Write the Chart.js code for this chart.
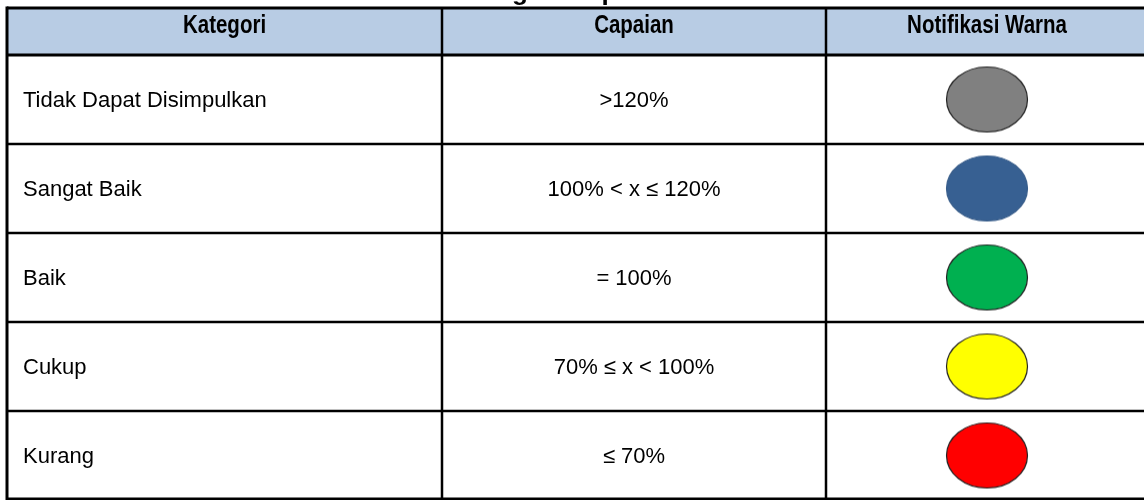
<html>

<head>
  <script src="https://cdn.jsdelivr.net/npm/chart.js"></script>
  <style>
    body { margin: 0; background: #fff; }
  </style>
</head>

<body>
  <canvas id="myChart" width="1144" height="500"></canvas>
  <script>
    // data of the table
    const judul = 'Kategori Capaian';
    const headers = ['Kategori', 'Capaian', 'Notifikasi Warna'];
    const categories = ['Tidak Dapat Disimpulkan', 'Sangat Baik', 'Baik', 'Cukup', 'Kurang'];
    const capaian = ['>120%', '100% < x \u2264 120%', '= 100%', '70% \u2264 x < 100%', '\u2264 70%'];
    const warna = ['#808080', '#376092', '#00b050', '#ffff00', '#ff0000'];

    // layout (x in pixels of the linear scale)
    const colEdges = [7, 442, 826, 1148];
    const headerTop = 8;

    const makeEllipse = (color) => {
      var c = document.createElement('canvas');
      c.width = 84; c.height = 68;
      var g = c.getContext('2d');
      g.beginPath();
      g.ellipse(42, 34, 40.5, 32.5, 0, 0, Math.PI * 2);
      g.fillStyle = color;
      g.fill();
      g.lineWidth = 1.2;
      g.strokeStyle = color == '#376092' ? '#385d8a' : '#222';
      g.stroke();
      return c;
    }

    const tablePlugin = {
      id: 'tabel',
      beforeDatasetsDraw(chart) {
        var ctx = chart.ctx;
        var x = chart.scales.x, y = chart.scales.y;
        var area = chart.chartArea;
        var band = (area.bottom - area.top) / categories.length;
        var px = v => x.getPixelForValue(v);
        var left = px(colEdges[0]);

        ctx.save();
        ctx.fillStyle = '#fff';
        ctx.fillRect(0, 0, chart.width, chart.height);

        // header band
        ctx.fillStyle = '#b8cce4';
        ctx.fillRect(left, headerTop, px(colEdges[3]) - left, area.top - headerTop);

        // title (mostly cut off above the picture)
        ctx.fillStyle = '#000';
        ctx.font = "bold 26px 'Liberation Sans', Arial, sans-serif";
        ctx.textAlign = 'left';
        ctx.textBaseline = 'alphabetic';
        ctx.fillText(judul, 512 - ctx.measureText('Kate').width, 0);

        // header texts, narrow bold
        ctx.font = "bold 25px 'Liberation Sans', Arial, sans-serif";
        var wide = ctx.measureText('Kategori').width;
        ctx.font = "bold 25px 'Liberation Sans Narrow', 'Arial Narrow', sans-serif";
        var narrow = ctx.measureText('Kategori').width;
        var sx = narrow / wide > 0.95 ? 0.82 : 1;
        ctx.textAlign = 'center';
        headers.forEach((h, i) => {
          var cx = (px(colEdges[i]) + px(colEdges[i + 1])) / 2;
          ctx.save();
          ctx.translate(cx, 33);
          ctx.scale(sx, 1);
          ctx.fillText(h, 0, 0);
          ctx.restore();
        });

        // body texts
        ctx.font = "22px 'Liberation Sans', Arial, sans-serif";
        categories.forEach((c, i) => {
          var cy = y.getPixelForValue(i) + 7;
          ctx.textAlign = 'left';
          ctx.fillText(c, left + 16, cy);
          ctx.textAlign = 'center';
          ctx.fillText(capaian[i], (px(colEdges[1]) + px(colEdges[2])) / 2, cy);
        });

        // grid lines
        ctx.strokeStyle = '#000';
        ctx.lineWidth = 3;
        ctx.beginPath();
        ctx.moveTo(left, headerTop); ctx.lineTo(chart.width, headerTop);
        ctx.moveTo(left, area.top); ctx.lineTo(chart.width, area.top);
        ctx.stroke();
        ctx.lineWidth = 2.5;
        ctx.beginPath();
        for (let i = 1; i <= categories.length; i++) {
          var ly = Math.min(area.top + band * i, chart.height - 1.2);
          ctx.moveTo(left, ly); ctx.lineTo(chart.width, ly);
        }
        ctx.stroke();
        ctx.lineWidth = 3;
        ctx.beginPath();
        ctx.moveTo(left, headerTop - 1.5); ctx.lineTo(left, chart.height);
        ctx.stroke();
        ctx.lineWidth = 2.5;
        ctx.beginPath();
        ctx.moveTo(px(colEdges[1]), headerTop); ctx.lineTo(px(colEdges[1]), chart.height);
        ctx.moveTo(px(colEdges[2]), headerTop); ctx.lineTo(px(colEdges[2]), chart.height);
        ctx.stroke();
        ctx.restore();
      }
    };

    var colCenter = (colEdges[2] + colEdges[3]) / 2;
    var points = categories.map(c => ({ x: colCenter, y: c }));

    var ctx = document.getElementById('myChart').getContext('2d');
    var tabel = new Chart(ctx, {
      type: 'scatter',
      data: {
        datasets: [{
          label: 'Notifikasi Warna',
          data: points,
          pointStyle: warna.map(makeEllipse),
          backgroundColor: warna,
          borderColor: warna,
          clip: false
        }]
      },
      options: {
        responsive: false,
        animation: false,
        events: [],
        layout: { autoPadding: false, padding: { top: 55, bottom: 0, left: 0, right: 0 } },
        plugins: { legend: { display: false }, tooltip: { enabled: false } },
        scales: {
          x: { type: 'linear', min: 0, max: 1144, display: false },
          y: { type: 'category', labels: categories, offset: true, display: false }
        }
      },
      plugins: [tablePlugin]
    });
  </script>
</body>

</html>
